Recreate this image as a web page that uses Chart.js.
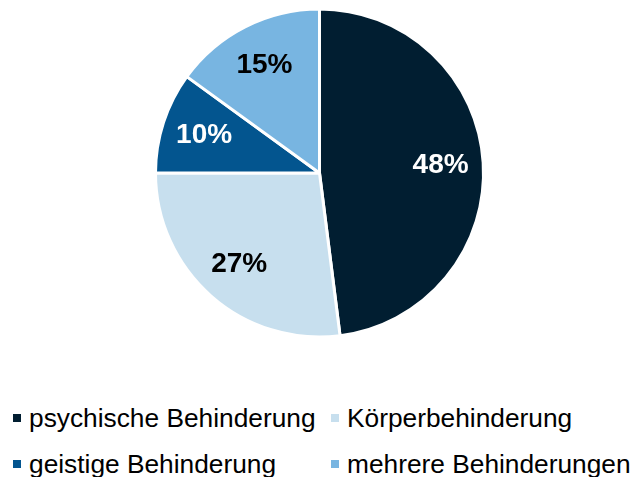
<!DOCTYPE html>
<html>
<head>
<meta charset="utf-8">
<script src="https://cdn.jsdelivr.net/npm/chart.js@4/dist/chart.umd.min.js"></script>
<style>
  html, body { margin: 0; padding: 0; background: #fff; }
  body { width: 637px; height: 477px; position: relative; overflow: hidden; font-family: "Liberation Sans", Arial, sans-serif; }
  #wrap { position: absolute; left: 0; top: 0; width: 637px; height: 346px; }
  #legend { position: absolute; left: 13px; top: 403px; display: grid; grid-template-columns: 318px auto; row-gap: 16px; }
  .item { display: flex; align-items: center; font-size: 26.3px; line-height: 30px; color: #000; white-space: nowrap; }
  .box { width: 8px; height: 8px; margin-right: 8px; flex: none; }
</style>
</head>
<body>
<div id="wrap"><canvas id="pie"></canvas></div>
<div id="legend"></div>
<script>
const categories = ["psychische Behinderung", "Körperbehinderung", "geistige Behinderung", "mehrere Behinderungen"];
const values = [48, 27, 10, 15];
const colors = ["#011e31", "#c7dfee", "#03558f", "#78b5e1"];
const labelColors = ["#fff", "#000", "#fff", "#000"];

// percent labels inside the slices
const sliceLabels = {
  id: "sliceLabels",
  afterDatasetsDraw(chart) {
    const ctx = chart.ctx;
    const arcs = chart.getDatasetMeta(0).data;
    ctx.save();
    ctx.font = "bold 28px 'Liberation Sans', Arial, sans-serif";
    ctx.textAlign = "center";
    ctx.textBaseline = "middle";
    arcs.forEach((arc, i) => {
      const mid = (arc.startAngle + arc.endAngle) / 2;
      const r = arc.outerRadius * 0.74;
      ctx.fillStyle = labelColors[i];
      ctx.fillText(values[i] + "%", arc.x + Math.cos(mid) * r, arc.y + Math.sin(mid) * r);
    });
    ctx.restore();
  }
};

new Chart(document.getElementById("pie"), {
  type: "pie",
  data: {
    labels: categories,
    datasets: [{
      data: values,
      backgroundColor: colors,
      borderColor: "#fff",
      borderWidth: 3
    }]
  },
  options: {
    responsive: true,
    maintainAspectRatio: false,
    animation: false,
    radius: 164,
    layout: { padding: { left: 2 } },
    plugins: {
      legend: { display: false },
      tooltip: { enabled: false }
    }
  },
  plugins: [sliceLabels]
});

const legendEl = document.getElementById("legend");
categories.forEach((name, i) => {
  const item = document.createElement("div");
  item.className = "item";
  const box = document.createElement("span");
  box.className = "box";
  box.style.background = colors[i];
  item.appendChild(box);
  item.appendChild(document.createTextNode(name));
  legendEl.appendChild(item);
});
</script>
</body>
</html>
